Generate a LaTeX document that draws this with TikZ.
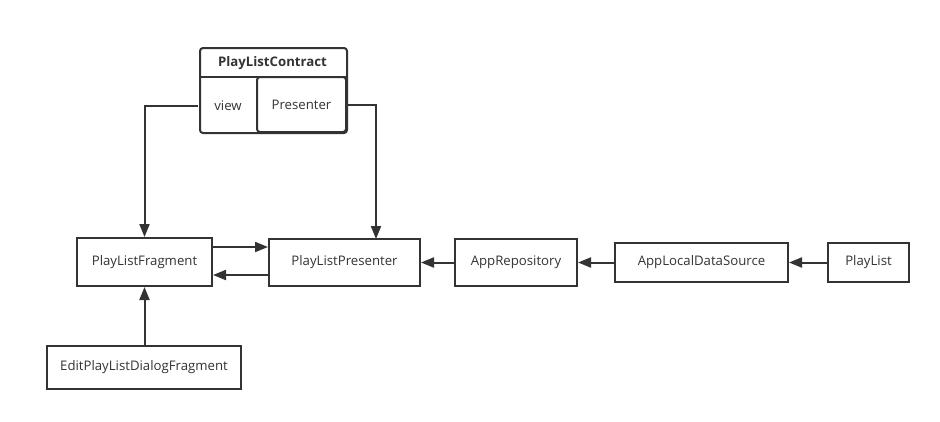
\documentclass[tikz,border=0pt]{standalone}
\usepackage{fontspec}
\setmainfont{Open Sans}
\usetikzlibrary{arrows.meta}
\definecolor{ln}{HTML}{333333}
\tikzset{
  x=1pt,y=-1pt,
  box/.style={draw=ln,line width=2pt,inner sep=0pt,font=\fontsize{13.2}{15}\selectfont,text=ln},
  conn/.style={draw=ln,line width=2pt,-{Triangle[length=13pt,width=10pt]}},
}
\newcommand{\bx}[6]{\node[box,minimum width=#4-#2,minimum height=#5-#3] (#1) at ({(#2+#4)/2},{(#3+#5)/2}) {#6};}
\begin{document}
\begin{tikzpicture}
\useasboundingbox (0,0) rectangle (940,421);
\fill[white] (0,0) rectangle (940,421);
% contract
\node[box,rounded corners=3pt,minimum width=147,minimum height=85,anchor=north west] (contract) at (199,47) {};
\node[box,draw=none,font=\fontsize{13.2}{15}\selectfont\bfseries] (ctitle) at (272.5,63) {PlayListContract};
\draw[ln,line width=2pt] (199,77) -- (346,77);
\node[box,draw=none,minimum width=58,minimum height=55] (view) at (228,105.5) {view};
\node[box,rounded corners=3pt,minimum width=89,minimum height=55] (pres) at (301.5,104.5) {Presenter};
% boxes
\bx{frag}{77}{238}{212}{286}{PlayListFragment}
\bx{lpres}{269}{239}{420}{286}{PlayListPresenter}
\bx{repo}{455}{239}{577}{286}{AppRepository}
\bx{local}{615}{243}{788}{282}{AppLocalDataSource}
\bx{pl}{828}{243}{909}{282}{PlayList}
\bx{edit}{47}{346}{241}{389}{EditPlayListDialogFragment}
\coordinate (lpin) at (376,239);
% connectors
\draw[conn] (view.west) -| (frag.north);
\draw[conn] (pres.east) -| (lpin);
\draw[conn] ([yshift=-10]frag.north east) -- ([yshift=-10]frag.north east -| lpres.west);
\draw[conn] ([yshift=12]lpres.south west) -- ([yshift=12]lpres.south west -| frag.east);
\draw[conn] (repo.west) -- (repo.west -| lpres.east);
\draw[conn] (local.west) -- (local.west -| repo.east);
\draw[conn] (pl.west) -- (local.east);
\draw[conn] (edit.north -| frag.south) -- (frag.south);
\end{tikzpicture}
\end{document}
